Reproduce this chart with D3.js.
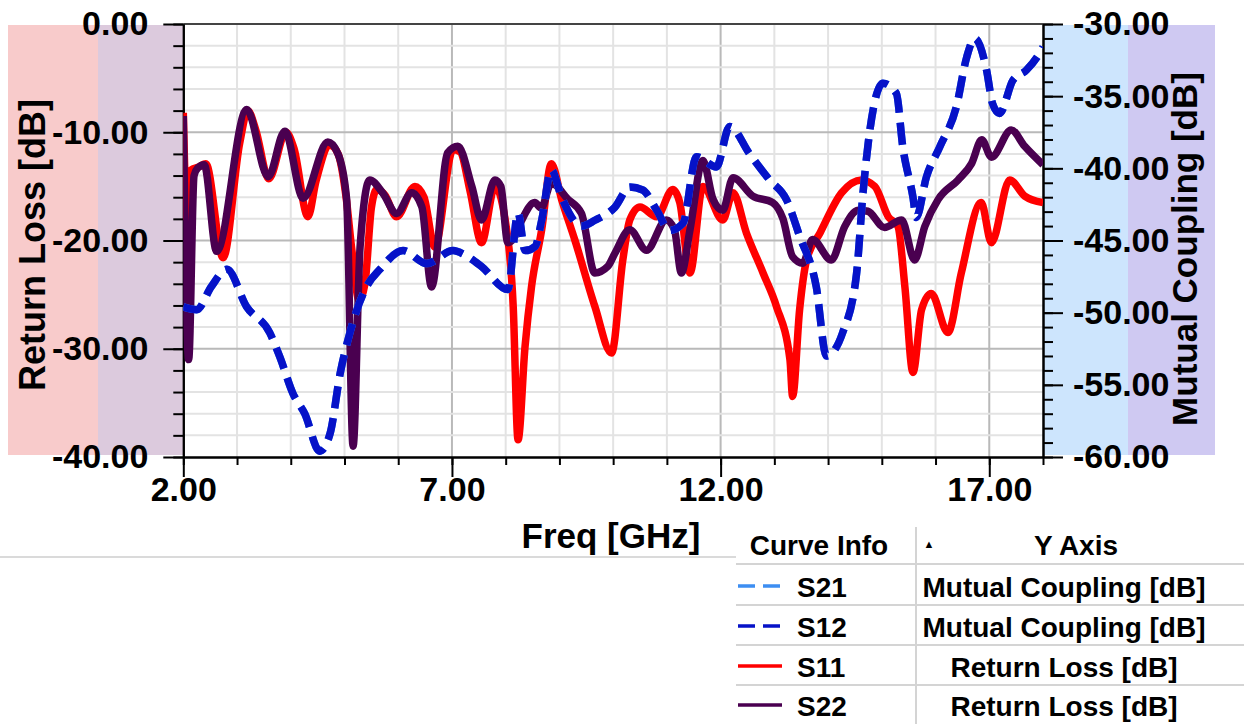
<!DOCTYPE html>
<html>
<head>
<meta charset="utf-8">
<script src="https://cdnjs.cloudflare.com/ajax/libs/d3/7.8.5/d3.min.js"></script>
<style>
body { margin: 0; background: #fff; }
svg text { font-family: "Liberation Sans", Arial, sans-serif; font-weight: bold; fill: #000; }
</style>
</head>
<body>
<div id="chart"></div>
<script>
/** S11 - Return Loss [dB] */
var s11Freq = [2.00, 2.07, 2.14, 2.29, 2.42, 2.74, 3.05, 3.20, 3.35, 3.59, 3.91, 4.06, 4.32, 4.47, 4.73, 4.88, 5.03, 5.14, 5.27, 5.38, 5.50, 5.60, 5.75, 5.97,
  6.31, 6.48, 6.68, 7.02, 7.15, 7.34, 7.55, 7.80, 7.99, 8.14, 8.23, 8.36, 8.48, 8.67, 8.85, 9.04, 9.29, 9.66, 9.97, 10.18, 10.31, 10.50, 10.81,
  11.11, 11.24, 11.43, 11.67, 12.04, 12.23, 12.48, 12.79, 13.04, 13.29, 13.34, 13.47, 13.60, 13.85, 14.25, 14.62, 14.87, 15.12, 15.30, 15.43,
  15.58, 15.74, 15.92, 16.23, 16.48, 16.85, 17.04, 17.38, 17.66, 18.00];
var s11Db = [-8.2, -18.0, -13.5, -13.2, -12.9, -21.6, -11.0, -8.0, -9.8, -14.3, -10.0, -11.5, -17.8, -14.5, -11.2, -12.0, -16.0, -21.0, -25.5, -24.0, -17.0, -15.3, -15.8, -17.8,
  -15.0, -16.0, -20.6, -11.6, -11.8, -15.5, -20.2, -15.0, -18.1, -26.1, -38.4, -29.8, -24.3, -19.0, -12.9, -16.2, -20.0, -26.1, -30.4, -21.8, -18.1, -16.9, -17.8,
  -15.3, -16.5, -23.0, -15.0, -18.1, -15.6, -19.3, -23.0, -26.1, -31.0, -34.4, -26.4, -21.8, -19.3, -15.6, -14.4, -15.0, -17.8, -18.7, -24.3,
  -32.2, -26.4, -24.9, -28.5, -23.0, -16.5, -20.2, -14.4, -15.9, -16.5];

/** S22 - Return Loss [dB] */
var s22Freq = [2.00, 2.10, 2.20, 2.27, 2.39, 2.62, 3.18, 3.58, 3.89, 4.23, 4.69, 4.88, 5.04, 5.16, 5.29, 5.47, 5.71, 5.97, 6.25, 6.44, 6.62, 6.92,
  7.11, 7.37, 7.55, 7.80, 7.91, 8.04, 8.15, 8.30, 8.54, 8.66, 8.85, 9.16, 9.41, 9.66, 9.90, 10.03, 10.31, 10.62, 10.99, 11.14, 11.27, 11.43,
  11.67, 11.86, 12.04, 12.23, 12.60, 12.97, 13.16, 13.34, 13.53, 13.71, 14.06, 14.31, 14.56, 14.74, 15.05, 15.37, 15.61, 15.80, 16.05, 16.42,
  16.67, 16.86, 17.04, 17.41, 17.66, 18.00];
var s22Db = [-8.5, -31.0, -14.0, -13.3, -13.0, -21.0, -7.9, -14.1, -9.9, -16.1, -10.9, -12.0, -16.2, -39.0, -20.6, -14.4, -15.6, -17.5, -15.6, -16.9, -24.3, -11.9,
  -11.3, -15.0, -18.1, -14.4, -15.0, -20.2, -19.8, -18.1, -16.5, -17.0, -14.7, -16.2, -17.5, -23.0, -22.4, -21.2, -19.0, -20.9, -18.1, -19.0, -23.0, -19.0,
  -12.6, -16.2, -17.2, -14.2, -15.9, -16.5, -18.0, -21.5, -22.1, -19.9, -21.8, -18.7, -17.2, -17.3, -18.8, -18.1, -21.8, -18.7, -16.2, -14.4,
  -12.9, -10.7, -12.3, -9.8, -11.3, -13.0];

/** S12 - Mutual Coupling [dB] (axe de droite) */
var s12Freq = [2.00, 2.25, 2.52, 2.81, 3.18, 3.61, 3.80, 4.04, 4.26, 4.54, 4.73, 4.92, 5.10, 5.41, 5.66, 6.09, 6.53, 7.02, 7.24, 7.55, 8.04, 8.23,
  8.36, 8.55, 8.67, 8.85, 9.04, 9.41, 9.66, 10.03, 10.31, 10.55, 10.81, 11.05, 11.30, 11.55, 11.92, 12.17, 12.54, 12.91, 13.23, 13.47, 13.78,
  13.97, 14.27, 14.53, 14.65, 14.78, 15.02, 15.27, 15.39, 15.58, 15.64, 15.83, 16.08, 16.39, 16.58, 16.73, 16.95, 17.06, 17.19, 17.44, 17.69,
  17.94, 18.00];
var s12Db = [-49.6, -49.8, -48.2, -47.0, -49.6, -51.4, -53.1, -55.6, -57.0, -59.6, -58.4, -54.2, -51.4, -48.2, -47.0, -45.7, -46.6, -45.7, -46.0, -46.8, -48.4, -43.1,
  -45.7, -45.4, -43.6, -40.1, -42.0, -44.0, -43.6, -42.7, -41.3, -41.5, -42.9, -44.3, -43.8, -39.2, -39.9, -37.1, -39.0, -40.8, -42.2, -44.7, -48.2,
  -53.0, -51.4, -47.3, -41.7, -37.3, -34.1, -34.8, -38.5, -42.0, -43.4, -40.6, -38.5, -35.7, -32.3, -31.0, -33.2, -35.5, -36.2, -33.9, -33.2,
  -32.0, -31.6];

/** S21 - Mutual Coupling [dB] : confondu avec S12 sur la figure */
var s21Freq = s12Freq;
var s21Db = s12Db;

/** Graduations */
var xTicks = [2, 7, 12, 17];
var yLeftTicks = [0, -10, -20, -30, -40];
var yRightTicks = [-30, -35, -40, -45, -50, -55, -60];

/** Légende */
var curveNames = ["S21", "S12", "S11", "S22"];
var curveAxes = ["Mutual Coupling [dB]", "Mutual Coupling [dB]", "Return Loss [dB]", "Return Loss [dB]"];
var curveColors = ["#3d8ef2", "#0612c8", "#ff0000", "#4a0050"];
var curveDash = ["17,8", "17,8", null, null];

var W = 1244, H = 724;
/** Cadre du tracé (pas de "top" : window.top est réservé) */
var pL = 183.3, pR = 1043, pT = 24, pB = 457;

var svg = d3.select("#chart").append("svg").attr("width", W).attr("height", H);

var x = d3.scaleLinear().domain([2, 18]).range([pL, pR]);
var yL = d3.scaleLinear().domain([0, -40]).range([pT, pB]);
var yR = d3.scaleLinear().domain([-30, -60]).range([pT, pB]);

/** Bandeaux colorés derrière les axes */
svg.append("rect").attr("x", 8).attr("y", 25).attr("width", 90).attr("height", 430).attr("fill", "#f8cbcb");
svg.append("rect").attr("x", 98).attr("y", 25).attr("width", pL - 98).attr("height", 430).attr("fill", "#dccadd");
svg.append("rect").attr("x", pR).attr("y", 25).attr("width", 1128 - pR).attr("height", 430).attr("fill", "#cde5fd");
svg.append("rect").attr("x", 1128).attr("y", 25).attr("width", 87).attr("height", 430).attr("fill", "#cfc9f2");

/** Grille */
var grid = svg.append("g");
grid.selectAll(".vx").data(d3.range(3, 18)).enter().append("line")
  .attr("x1", function (d) { return x(d); }).attr("x2", function (d) { return x(d); })
  .attr("y1", pT).attr("y2", pB)
  .attr("stroke", function (d) { return xTicks.indexOf(d) >= 0 ? "#b9b9b9" : "#e3e3e3"; })
  .attr("stroke-width", 2);
grid.selectAll(".hy").data(d3.range(-2, -40, -2)).enter().append("line")
  .attr("x1", pL).attr("x2", pR)
  .attr("y1", function (d) { return yL(d); }).attr("y2", function (d) { return yL(d); })
  .attr("stroke", function (d) { return d % 10 === 0 ? "#b9b9b9" : "#e3e3e3"; })
  .attr("stroke-width", 2);
svg.append("line").attr("x1", pL).attr("x2", pR).attr("y1", pT).attr("y2", pT)
  .attr("stroke", "#444").attr("stroke-width", 2);

/** Axes (tiret simple pour le signe moins, comme sur l'original) */
var fmt = d3.formatLocale({ decimal: ".", thousands: ",", grouping: [3], currency: ["", ""], minus: "-" }).format(".2f");
function styleAxis(g, size) {
  g.selectAll("text").style("font-size", size + "px");
  g.selectAll("path,line").attr("stroke", "#000").attr("stroke-width", 2);
}
var ax;
ax = svg.append("g").attr("transform", "translate(" + pL + ",0)")
  .call(d3.axisLeft(yL).tickValues(d3.range(0, -41, -2)).tickSize(10).tickSizeOuter(0).tickFormat(""));
styleAxis(ax, 34);
ax = svg.append("g").attr("transform", "translate(" + pL + ",0)")
  .call(d3.axisLeft(yL).tickValues(yLeftTicks).tickSize(20).tickSizeOuter(0).tickPadding(15).tickFormat(fmt));
styleAxis(ax, 34);

ax = svg.append("g").attr("transform", "translate(" + pR + ",0)")
  .call(d3.axisRight(yR).tickValues(d3.range(-30, -61, -1)).tickSize(10).tickSizeOuter(0).tickFormat(""));
styleAxis(ax, 34);
ax = svg.append("g").attr("transform", "translate(" + pR + ",0)")
  .call(d3.axisRight(yR).tickValues(yRightTicks).tickSize(20).tickSizeOuter(0).tickPadding(10).tickFormat(fmt));
styleAxis(ax, 34);

ax = svg.append("g").attr("transform", "translate(0," + pB + ")")
  .call(d3.axisBottom(x).tickValues(d3.range(2, 19, 1)).tickSize(8).tickSizeOuter(0).tickFormat(""));
styleAxis(ax, 34);
ax = svg.append("g").attr("transform", "translate(0," + pB + ")")
  .call(d3.axisBottom(x).tickValues(xTicks).tickSize(20).tickSizeOuter(0).tickPadding(0).tickFormat(fmt));
styleAxis(ax, 34);

/** Titres des axes */
svg.append("text").attr("transform", "translate(45,245) rotate(-90)").attr("text-anchor", "middle")
  .style("font-size", "36px").text("Return Loss [dB]");
svg.append("text").attr("transform", "translate(1197,249) rotate(-90)").attr("text-anchor", "middle")
  .style("font-size", "35px").text("Mutual Coupling [dB]");
svg.append("text").attr("x", 611).attr("y", 548).attr("text-anchor", "middle")
  .style("font-size", "35px").text("Freq [GHz]");

/** Les courbes */
svg.append("clipPath").attr("id", "plotClip").append("rect")
  .attr("x", pL).attr("y", pT).attr("width", pR - pL).attr("height", pB - pT);
var plot = svg.append("g").attr("clip-path", "url(#plotClip)");

function addCurve(freqs, vals, yScale, color, dash) {
  var pts = freqs.map(function (f, i) { return [f, vals[i]]; });
  var line = d3.line().curve(d3.curveMonotoneX)
    .x(function (d) { return x(d[0]); }).y(function (d) { return yScale(d[1]); });
  plot.append("path").datum(pts).attr("d", line)
    .attr("fill", "none").attr("stroke", color).attr("stroke-width", 7.5)
    .attr("stroke-linejoin", "round")
    .attr("stroke-dasharray", dash);
}
addCurve(s11Freq, s11Db, yL, curveColors[2], null);
addCurve(s22Freq, s22Db, yL, curveColors[3], null);
addCurve(s21Freq, s21Db, yR, curveColors[0], "22,10");
addCurve(s12Freq, s12Db, yR, curveColors[1], "22,10");

/** Tableau de légende */
var lg = svg.append("g");
lg.append("line").attr("x1", 0).attr("x2", 736).attr("y1", 557).attr("y2", 557).attr("stroke", "#dadada").attr("stroke-width", 2);
lg.append("line").attr("x1", 916).attr("x2", 916).attr("y1", 527).attr("y2", H).attr("stroke", "#d4d4d4").attr("stroke-width", 2);
lg.append("text").attr("x", 819).attr("y", 555).attr("text-anchor", "middle").style("font-size", "28px").text("Curve Info");
lg.append("text").attr("x", 929).attr("y", 548).attr("text-anchor", "middle").style("font-size", "11px").text("\u25B2");
lg.append("text").attr("x", 1076).attr("y", 555).attr("text-anchor", "middle").style("font-size", "28px").text("Y Axis");

var rowLines = [564, 605, 645, 685];
lg.selectAll(".rl").data(rowLines).enter().append("line")
  .attr("x1", 736).attr("x2", W).attr("y1", function (d) { return d; }).attr("y2", function (d) { return d; })
  .attr("stroke", "#d4d4d4").attr("stroke-width", 2);

var rowBase = [597, 637, 677, 716];
curveNames.forEach(function (name, i) {
  var yb = rowBase[i];
  lg.append("line").attr("x1", 738).attr("x2", 782).attr("y1", yb - 11).attr("y2", yb - 11)
    .attr("stroke", curveColors[i]).attr("stroke-width", 3.5).attr("stroke-dasharray", curveDash[i]);
  lg.append("text").attr("x", 797).attr("y", yb).style("font-size", "28px").text(name);
  lg.append("text").attr("x", 1064).attr("y", yb).attr("text-anchor", "middle").style("font-size", "28px").text(curveAxes[i]);
});
</script>
</body>
</html>
